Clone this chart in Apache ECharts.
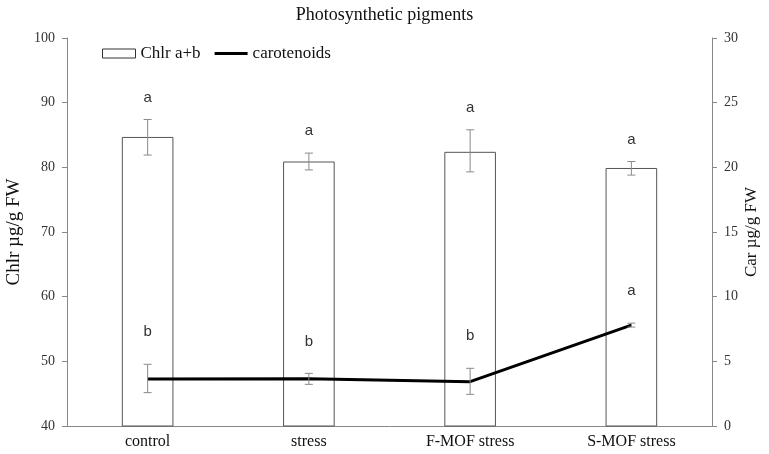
<!DOCTYPE html>
<html>
<head>
<meta charset="utf-8">
<script src="https://cdn.jsdelivr.net/npm/echarts@6/dist/echarts.min.js"></script>
<style>
  html, body { margin: 0; padding: 0; background: #fff; }
  #container { width: 769px; height: 454px; }
</style>
</head>
<body>
<div id="container"></div>
<script>
var categories = ['control', 'stress', 'F-MOF stress', 'S-MOF stress'];
var chlr = [84.7, 80.9, 82.4, 79.9];
var chlrLow = [81.9, 79.6, 79.3, 78.8];
var chlrHigh = [87.4, 82.2, 85.8, 80.9];
var chlrLetters = ['a', 'a', 'a', 'a'];
var car = [3.63, 3.65, 3.43, 7.8];
var carLow = [2.58, 3.22, 2.45, 7.65];
var carHigh = [4.77, 4.07, 4.46, 7.95];
var carLetters = ['b', 'b', 'b', 'a'];

var dom = document.getElementById('container');
var myChart = echarts.init(dom);

function errData(low, high, letters) {
    return categories.map(function (c, i) {
        return [i, low[i], high[i], letters[i]];
    });
}

// error bar + significance letter above it
function errRender(offset) {
    return function (params, api) {
        var i = api.value(0);
        var lo = api.coord([i, api.value(1)]);
        var hi = api.coord([i, api.value(2)]);
        var w = 4;
        var st = { stroke: '#8a8a8a', lineWidth: 1 };
        return {
            type: 'group',
            children: [
                { type: 'line', shape: { x1: hi[0], y1: hi[1], x2: lo[0], y2: lo[1] }, style: st },
                { type: 'line', shape: { x1: hi[0] - w, y1: hi[1], x2: hi[0] + w, y2: hi[1] }, style: st },
                { type: 'line', shape: { x1: lo[0] - w, y1: lo[1], x2: lo[0] + w, y2: lo[1] }, style: st },
                {
                    type: 'text',
                    x: hi[0], y: hi[1] - offset,
                    style: {
                        text: api.value(3),
                        fill: '#333',
                        font: '15px "Liberation Sans", Arial, sans-serif',
                        align: 'center', verticalAlign: 'middle'
                    }
                }
            ]
        };
    };
}

var serif = '"Liberation Serif", "Times New Roman", serif';

var option = {
    animation: false,
    title: {
        text: 'Photosynthetic pigments',
        left: 'center',
        top: 1,
        textStyle: { fontFamily: serif, fontSize: 18, fontWeight: 'normal', color: '#111' }
    },
    legend: {
        left: 97,
        top: 40,
        itemWidth: 33,
        itemHeight: 9,
        itemGap: 14,
        textStyle: { fontFamily: serif, fontSize: 17, color: '#111' },
        data: [
            { name: 'Chlr a+b', icon: 'rect', itemStyle: { color: '#fff', borderColor: '#333', borderWidth: 1 } },
            { name: 'carotenoids', icon: 'path://M0,0 L34,0 L34,3 L0,3 Z', itemStyle: { color: '#000' } }
        ]
    },
    grid: { left: 67, right: 57, top: 38, bottom: 28, outerBoundsMode: 'none' },
    xAxis: {
        type: 'category',
        data: categories,
        axisTick: { show: false },
        axisLine: { lineStyle: { color: '#888' } },
        axisLabel: { fontFamily: serif, fontSize: 16, color: '#111', margin: 8 }
    },
    yAxis: [
        {
            type: 'value', min: 40, max: 100, interval: 10,
            name: 'Chlr µg/g FW', nameLocation: 'middle', nameGap: 43, nameRotate: 90,
            nameMoveOverlap: false,
            nameTextStyle: { fontFamily: serif, fontSize: 19, color: '#111' },
            axisLine: { show: true, lineStyle: { color: '#888' } },
            axisTick: { show: true, length: 5, lineStyle: { color: '#888' } },
            splitLine: { show: false },
            axisLabel: { fontFamily: serif, fontSize: 14, color: '#333', margin: 12 }
        },
        {
            type: 'value', min: 0, max: 30, interval: 5,
            name: 'Car µg/g FW', nameLocation: 'middle', nameGap: 31, nameRotate: 90,
            nameMoveOverlap: false,
            nameTextStyle: { fontFamily: serif, fontSize: 17, color: '#111' },
            axisLine: { show: true, lineStyle: { color: '#888' } },
            axisTick: { show: true, length: 5, lineStyle: { color: '#888' } },
            splitLine: { show: false },
            axisLabel: { fontFamily: serif, fontSize: 14, color: '#333', margin: 12 }
        }
    ],
    series: [
        {
            name: 'Chlr a+b',
            type: 'bar',
            yAxisIndex: 0,
            data: chlr,
            barWidth: '32%',
            itemStyle: { color: '#fff', borderColor: '#555', borderWidth: 1 }
        },
        {
            name: 'chlrErr',
            type: 'custom',
            yAxisIndex: 0,
            renderItem: errRender(22),
            data: errData(chlrLow, chlrHigh, chlrLetters),
            z: 5
        },
        {
            name: 'carotenoids',
            type: 'line',
            yAxisIndex: 1,
            data: car,
            symbol: 'none',
            lineStyle: { color: '#000', width: 3 },
            itemStyle: { color: '#000' },
            z: 4
        },
        {
            name: 'carErr',
            type: 'custom',
            yAxisIndex: 1,
            renderItem: errRender(32),
            data: errData(carLow, carHigh, carLetters),
            z: 5
        }
    ]
};

myChart.setOption(option);
</script>
</body>
</html>
